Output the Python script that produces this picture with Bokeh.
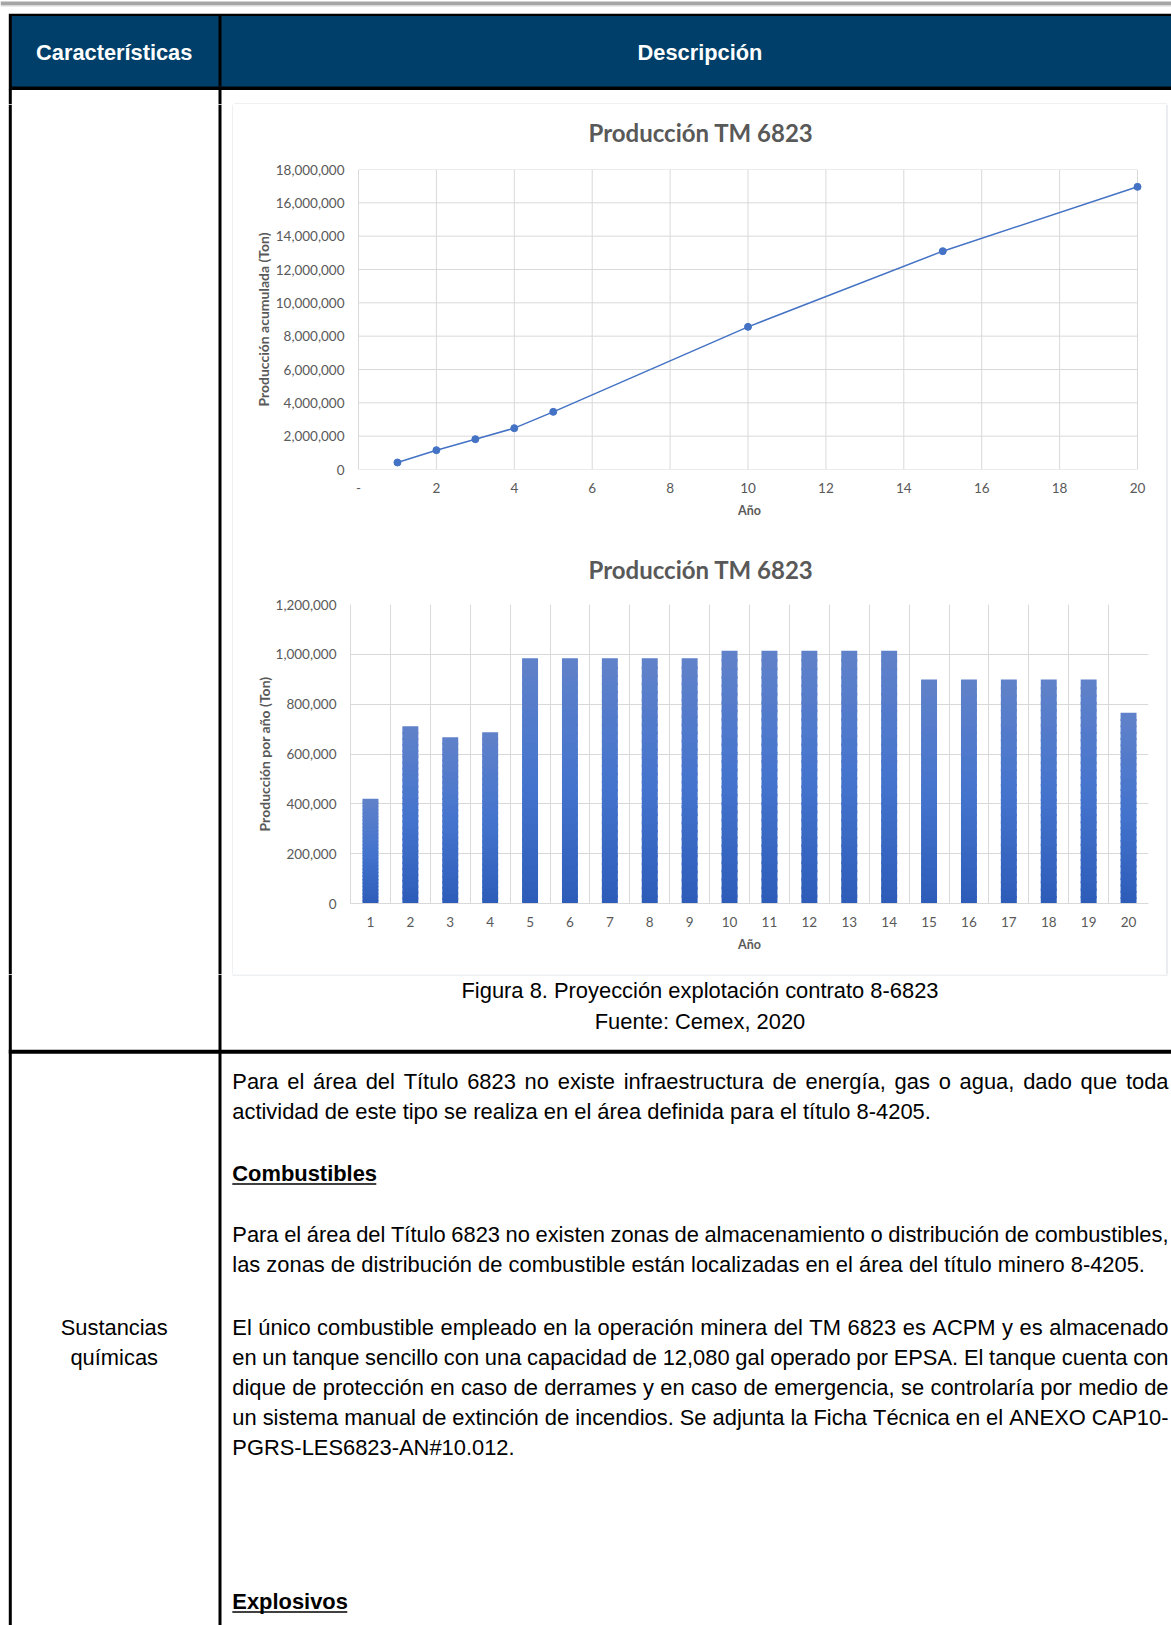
import numpy as np
from bokeh.plotting import figure
from bokeh.layouts import column, row
from bokeh.models import Range1d, FixedTicker, NumeralTickFormatter, Title
from bokeh.core.properties import value
from bokeh.embed import file_html
from bokeh.resources import INLINE

# ---------------- data ----------------
cum_years = [1, 2, 3, 4, 5, 10, 15, 20]
cum_prod = [420000, 1160000, 1820000, 2480000, 3460000, 8560000, 13100000, 16960000]
cum_x_ticks = [0, 2, 4, 6, 8, 10, 12, 14, 16, 18, 20]
cum_y_ticks = [0, 2000000, 4000000, 6000000, 8000000, 10000000, 12000000,
               14000000, 16000000, 18000000]

years = [1, 2, 3, 4, 5, 6, 7, 8, 9, 10, 11, 12, 13, 14, 15, 16, 17, 18, 19, 20]
annual_prod = [420000, 711000, 667000, 687000, 984000, 984000, 984000, 984000, 984000,
               1014000, 1014000, 1014000, 1014000, 1014000,
               899000, 899000, 899000, 899000, 899000, 766000]
annual_y_ticks = [0, 200000, 400000, 600000, 800000, 1000000, 1200000]

chart_title = "Producción TM 6823"
cum_y_label = "Producción acumulada (Ton)"
annual_y_label = "Producción por año (Ton)"
x_label = "Año"

header_labels = ["Características", "Descripción"]
caption_lines = ["Figura 8. Proyección explotación contrato 8-6823", "Fuente: Cemex, 2020"]
row_label_lines = ["Sustancias", "químicas"]
body_lines = [
    "Para el área del Título 6823 no existe infraestructura de energía, gas o agua, dado que toda",
    "actividad de este tipo se realiza en el área definida para el título 8-4205.",
    "Para el área del Título 6823 no existen zonas de almacenamiento o distribución de combustibles,",
    "las zonas de distribución de combustible están localizadas en el área del título minero 8-4205.",
    "El único combustible empleado en la operación minera del TM 6823 es ACPM y es almacenado",
    "en un tanque sencillo con una capacidad de 12,080 gal operado por EPSA. El tanque cuenta con",
    "dique de protección en caso de derrames y en caso de emergencia, se controlaría por medio de",
    "un sistema manual de extinción de incendios. Se adjunta la Ficha Técnica en el ANEXO CAP10-",
    "PGRS-LES6823-AN#10.012.",
]
body_justified = [True, False, True, False, True, True, True, True, False]
heading_lines = ["Combustibles", "Explosivos"]

# ---------------- styles / layout ----------------
NAVY = "#003F69"
GRID = "#d9d9d9"
BOX = "#dde1e6"
TXT = "#595959"
BLUE = "#4472C4"
BODY_FONT = value("Liberation Sans")
BODY_PX = 21.9
BODY_SIZE = "%.1fpx" % BODY_PX
TEXT_LEFT = 231.8
TEXT_RIGHT = 1168.0

# text y values are visual centres of capitals
body_y = [1080.8, 1110.8, 1234.3, 1264.4, 1326.5, 1356.6, 1386.8, 1416.6, 1446.7]
heading_y = [1173.0, 1601.0]
heading_widths = [144, 115]

# Arial / Liberation Sans advance widths (1/1000 em), used to justify lines
W = {" ": 278, ",": 278, ".": 278, "-": 333, "#": 556, ":": 278, "(": 333, ")": 333}
for ch in "abdeghnopqu" + "áéóúñ" + "0123456789":
    W[ch] = 556
for ch in "cksvxyz":
    W[ch] = 500
W.update({"f": 278, "i": 222, "j": 222, "l": 222, "m": 833, "r": 333, "t": 278, "w": 722,
          "í": 278})
W.update({"A": 667, "B": 667, "C": 722, "D": 722, "E": 667, "F": 611, "G": 778, "H": 722,
          "I": 278, "K": 667, "L": 556, "M": 833, "N": 722, "O": 778, "P": 667, "R": 722,
          "S": 667, "T": 611, "X": 667})


def tw(s, px):
    return sum(W.get(ch, 556) for ch in s) * px / 1000.0


def canvas(x0, x1, y0, y1):
    p = figure(width=int(x1 - x0), height=int(y1 - y0),
               x_range=Range1d(x0, x1), y_range=Range1d(y1, y0),
               output_backend="svg", toolbar_location=None,
               x_axis_type=None, y_axis_type=None, min_border=0,
               outline_line_color=None, background_fill_color="white",
               border_fill_color="white")
    return p


# ---------- top: header ----------
top = canvas(0, 1171, 0, 104)
top.quad(left=[0], right=[1171], top=[1], bottom=[5], fill_color="#a6a6a6", line_color=None)
top.quad(left=[0], right=[1171], top=[5], bottom=[6], fill_color="#dcdcdc", line_color=None)
top.quad(left=[8.3], right=[1171], top=[13.3], bottom=[89.5], fill_color="black", line_color=None)
top.quad(left=[11.3], right=[1171], top=[15.5], bottom=[86], fill_color=NAVY, line_color=None)
top.quad(left=[218, 8.3, 218], right=[221, 11.3, 221], top=[15.5, 89, 89], bottom=[86, 104, 104],
         fill_color="black", line_color=None)
top.segment(x0=[233.5], y0=[103.5], x1=[1166.5], y1=[103.5], line_color=BOX, line_width=1.2)
top.segment(x0=[233.5, 1166.5], y0=[103.5, 103.5], x1=[233.5, 1166.5], y1=[104, 104],
            line_color=BOX, line_width=1.2)
top.text(x=[113.7, 699.5], y=[51.7, 51.7], text=header_labels, text_font=BODY_FONT,
         text_font_size="21.8px", text_font_style="bold", text_color="white",
         text_align="center", text_baseline="alphabetic")

# ---------- left column beside the charts ----------
left = canvas(0, 233, 104, 974)
left.quad(left=[8.3, 218], right=[11.3, 221], top=[104, 104], bottom=[974, 974],
          fill_color="black", line_color=None)
left.segment(x0=[232.6], y0=[104], x1=[232.6], y1=[974], line_color=BOX, line_width=1.2)

# ---------- right strip beside the charts ----------
right = canvas(1165, 1171, 104, 974)
right.segment(x0=[1166.5], y0=[104], x1=[1166.5], y1=[974], line_color=BOX, line_width=1.2)


def style_chart(p, ylab, title_gap):
    p.background_fill_color = "white"
    p.border_fill_color = "white"
    p.outline_line_color = None
    for ax in (p.xaxis[0], p.yaxis[0]):
        ax.major_tick_out = 0
        ax.major_tick_in = 0
        ax.minor_tick_out = 0
        ax.minor_tick_in = 0
        ax.axis_line_color = GRID
        ax.major_label_text_font = "Lato"
        ax.major_label_text_font_size = "13.5px"
        ax.major_label_text_color = TXT
        ax.axis_label_text_font = "Lato"
        ax.axis_label_text_font_size = "14px"
        ax.axis_label_text_font_style = "bold"
        ax.axis_label_text_color = TXT
    p.xaxis.axis_label = x_label
    p.xaxis.axis_label_text_font_size = "12.5px"
    p.yaxis.axis_label = ylab
    p.xaxis.major_label_standoff = 13
    p.xaxis.axis_label_standoff = 7
    p.grid.grid_line_color = GRID
    p.grid.grid_line_width = 1
    # blank spacer title next to the frame, then the visible title above it
    p.add_layout(Title(text=" ", text_font="Lato", text_font_size="10px", text_color="white",
                       standoff=title_gap), "above")
    p.add_layout(Title(text=chart_title, text_font="Lato", text_font_size="24px",
                       text_font_style="bold", text_color=TXT, align="left", offset=238,
                       standoff=0), "above")


# ---------- chart 1: cumulative ----------
# both charts share the same frame borders (Bokeh aligns them in a column);
# chart 1 range is widened so that x=0..20 sits where the original axis is.
p1 = figure(width=932, height=435, x_range=Range1d(-0.2054, 20.282), y_range=Range1d(0, 18000000),
            output_backend="svg", toolbar_location=None,
            min_border_left=117, min_border_right=17, min_border_top=65, min_border_bottom=70)
style_chart(p1, cum_y_label, 9)
p1.xaxis.ticker = FixedTicker(ticks=cum_x_ticks)
p1.xaxis.major_label_overrides = {0: "-"}
p1.yaxis.ticker = FixedTicker(ticks=cum_y_ticks)
p1.yaxis.formatter = NumeralTickFormatter(format="0,0")
p1.yaxis.major_label_standoff = 6
p1.yaxis.axis_label_standoff = 1
p1.xaxis.axis_line_color = None
p1.yaxis.axis_line_color = None
p1.grid.visible = False
x_lo, x_hi = cum_x_ticks[0], cum_x_ticks[-1]
y_lo, y_hi = cum_y_ticks[0], cum_y_ticks[-1]
p1.segment(x0=[x_lo] * len(cum_y_ticks), y0=cum_y_ticks, x1=[x_hi] * len(cum_y_ticks),
           y1=cum_y_ticks, line_color=GRID, line_width=1)
p1.segment(x0=cum_x_ticks, y0=[y_lo] * len(cum_x_ticks), x1=cum_x_ticks,
           y1=[y_hi] * len(cum_x_ticks), line_color=GRID, line_width=1)
p1.line(cum_years, cum_prod, line_color=BLUE, line_width=1.5)
p1.scatter(cum_years, cum_prod, size=7, fill_color=BLUE, line_color=BLUE)

# separator between the two chart boxes
sep = canvas(233, 1165, 539, 541)
sep.background_fill_color = BOX
sep.border_fill_color = BOX

# ---------- chart 2: annual ----------
p2 = figure(width=932, height=433, x_range=Range1d(0.5, 20.5), y_range=Range1d(0, 1200000),
            output_backend="svg", toolbar_location=None,
            min_border_left=117, min_border_right=17, min_border_top=63, min_border_bottom=71)
style_chart(p2, annual_y_label, 7)
p2.xaxis.ticker = FixedTicker(ticks=years)
p2.xgrid.ticker = FixedTicker(ticks=[y - 0.5 for y in years] + [years[-1] + 0.5])
p2.yaxis.ticker = FixedTicker(ticks=annual_y_ticks)
p2.yaxis.formatter = NumeralTickFormatter(format="0,0")
p2.yaxis.major_label_standoff = 14
p2.yaxis.axis_label_standoff = 0

# vertical gradient bars: each bar split in slices of its own height
N = 30
c_bot = np.array([44, 92, 184])
c_mid = np.array([68, 116, 205])
c_top = np.array([96, 129, 201])
xs, tops, bots, cols = [], [], [], []
for yr, v in zip(years, annual_prod):
    for k in range(N):
        t = (k + 0.5) / N
        if t < 0.5:
            c = c_bot + (c_mid - c_bot) * (t / 0.5)
        else:
            c = c_mid + (c_top - c_mid) * ((t - 0.5) / 0.5)
        xs.append(yr)
        bots.append(max(0.0, v * (k - 0.3) / N))
        tops.append(v * (k + 1) / N)
        cols.append("#%02x%02x%02x" % tuple(int(round(q)) for q in c))
p2.vbar(x=xs, width=0.4, top=tops, bottom=bots, fill_color=cols, line_color=None)

# ---------- bottom part ----------
bot = canvas(0, 1171, 974, 1625)
bot.segment(x0=[232.6], y0=[974.5], x1=[1166.5], y1=[974.5], line_color=BOX, line_width=1.2)
bot.segment(x0=[232.6, 1166.5], y0=[974, 974], x1=[232.6, 1166.5], y1=[975, 975],
            line_color=BOX, line_width=1.2)
bot.quad(left=[8.3, 218], right=[11.3, 221], top=[974, 974], bottom=[1625, 1625],
         fill_color="black", line_color=None)
bot.quad(left=[8.3], right=[1171], top=[1049.3], bottom=[1053.3], fill_color="black",
         line_color=None)
bot.text(x=[699.5, 699.5], y=[989.8, 1020.8], text=caption_lines, text_font=BODY_FONT,
         text_font_size=BODY_SIZE, text_color="black", text_align="center",
         text_baseline="alphabetic")
bot.text(x=[113.7, 113.7], y=[1326.5, 1356.6], text=row_label_lines, text_font=BODY_FONT,
         text_font_size=BODY_SIZE, text_color="black", text_align="center",
         text_baseline="alphabetic")

# body paragraphs (justified lines placed word by word)
wx, wy, wt = [], [], []
for line, yy, just in zip(body_lines, body_y, body_justified):
    if not just:
        wx.append(TEXT_LEFT)
        wy.append(yy)
        wt.append(line)
        continue
    words = line.split(" ")
    natural = sum(tw(w, BODY_PX) for w in words)
    gap = (TEXT_RIGHT - TEXT_LEFT - natural) / (len(words) - 1)
    x = TEXT_LEFT
    for w in words:
        wx.append(x)
        wy.append(yy)
        wt.append(w)
        x += tw(w, BODY_PX) + gap
bot.text(x=wx, y=wy, text=wt, text_font=BODY_FONT, text_font_size=BODY_SIZE,
         text_color="black", text_align="left", text_baseline="alphabetic")
bot.text(x=[TEXT_LEFT] * len(heading_lines), y=heading_y, text=heading_lines,
         text_font=BODY_FONT, text_font_size=BODY_SIZE, text_font_style="bold",
         text_color="black", text_align="left", text_baseline="alphabetic")
bot.segment(x0=[TEXT_LEFT] * 2, y0=[yy + 10.5 for yy in heading_y],
            x1=[TEXT_LEFT + w for w in heading_widths], y1=[yy + 10.5 for yy in heading_y],
            line_color="black", line_width=1.6)

layout = column(top, row(left, column(p1, sep, p2), right), bot)

open("out.html", "w").write(file_html(layout, INLINE))
